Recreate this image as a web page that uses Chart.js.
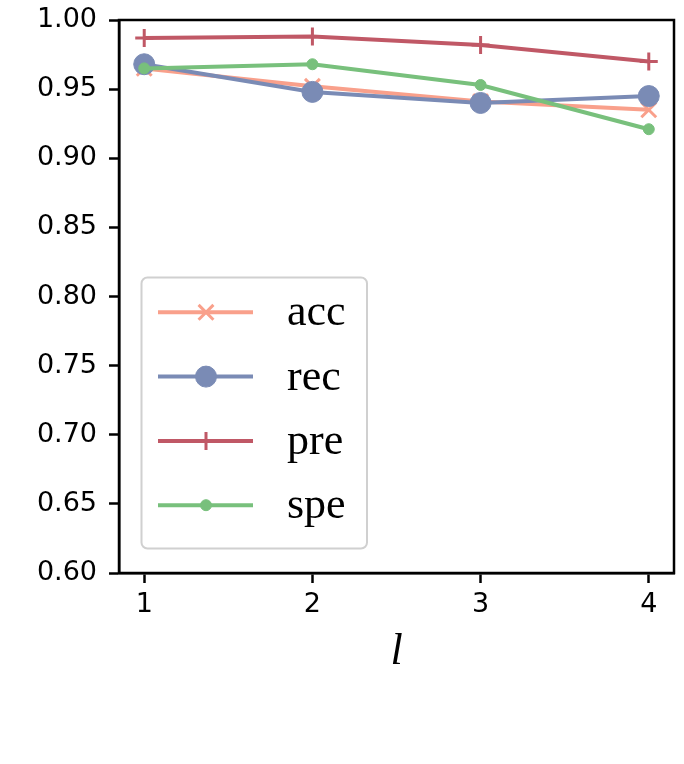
<!DOCTYPE html>
<html>
<head>
<meta charset="utf-8">
<script src="https://cdn.jsdelivr.net/npm/chart.js@4.4.1/dist/chart.umd.min.js"></script>
<style>
  html, body { margin: 0; padding: 0; background: #fff; overflow: hidden; }
  canvas { display: block; }
</style>
</head>
<body>
<canvas id="lineChart" width="684" height="764"></canvas>
<script>
const layers = [1, 2, 3, 4];
const accValues = [0.965, 0.952, 0.941, 0.935];
const recValues = [0.968, 0.948, 0.940, 0.945];
const preValues = [0.987, 0.988, 0.982, 0.970];
const speValues = [0.965, 0.968, 0.953, 0.921];
const xTicks = [1, 2, 3, 4];
const yTicks = [0.60, 0.65, 0.70, 0.75, 0.80, 0.85, 0.90, 0.95, 1.00];

const toPoints = vals => vals.map((v, i) => ({ x: layers[i], y: v }));

// frame around the plot + legend box in the lower-left
const framePlugin = {
    id: 'frame',
    afterDraw(chart) {
        const { ctx, chartArea: a } = chart;
        ctx.save();
        ctx.strokeStyle = '#000';
        ctx.lineWidth = 2.5;
        ctx.strokeRect(a.left, a.top, a.right - a.left, a.bottom - a.top);

        // legend
        const bx = 141.5, by = 277.5, bw = 225.5, bh = 271;
        ctx.beginPath();
        ctx.roundRect(bx, by, bw, bh, 6);
        ctx.fillStyle = 'rgba(255,255,255,0.8)';
        ctx.fill();
        ctx.strokeStyle = '#d0d0d0';
        ctx.lineWidth = 2;
        ctx.stroke();

        chart.data.datasets.forEach((ds, i) => {
            const y = 312.3 + i * 64.3;
            ctx.strokeStyle = ds.borderColor;
            ctx.lineWidth = ds.borderWidth;
            ctx.beginPath();
            ctx.moveTo(158, y);
            ctx.lineTo(253, y);
            ctx.stroke();
            ctx.fillStyle = ds.pointBackgroundColor;
            ctx.strokeStyle = ds.pointBorderColor;
            ctx.lineWidth = ds.pointBorderWidth;
            Chart.helpers.drawPoint(ctx, {
                pointStyle: ds.pointStyle,
                radius: ds.pointRadius,
                borderWidth: ds.pointBorderWidth,
                rotation: 0
            }, 206, y);
            ctx.fillStyle = '#000';
            ctx.font = '44px "Liberation Serif", "Times New Roman", serif';
            ctx.textBaseline = 'alphabetic';
            ctx.textAlign = 'left';
            ctx.fillText(ds.label, 287, y + 13);
        });
        ctx.restore();
    }
};

const ctx = document.getElementById('lineChart').getContext('2d');
new Chart(ctx, {
    type: 'line',
    data: {
        datasets: [
            {
                label: 'acc',
                data: toPoints(accValues),
                borderColor: 'rgb(249,160,139)',
                pointBackgroundColor: 'rgb(249,160,139)',
                pointBorderColor: 'rgb(249,160,139)',
                pointStyle: 'crossRot',
                pointRadius: 10.5,
                pointBorderWidth: 3,
                borderWidth: 4,
                order: 4
            },
            {
                label: 'rec',
                data: toPoints(recValues),
                borderColor: 'rgb(122,139,181)',
                pointBackgroundColor: 'rgb(122,139,181)',
                pointBorderColor: 'rgb(122,139,181)',
                pointStyle: 'circle',
                pointRadius: 10.5,
                pointBorderWidth: 1,
                borderWidth: 4,
                order: 3
            },
            {
                label: 'pre',
                data: toPoints(preValues),
                borderColor: 'rgb(192,88,102)',
                pointBackgroundColor: 'rgb(192,88,102)',
                pointBorderColor: 'rgb(192,88,102)',
                pointStyle: 'cross',
                pointRadius: 9,
                pointBorderWidth: 3,
                borderWidth: 4,
                order: 2
            },
            {
                label: 'spe',
                data: toPoints(speValues),
                borderColor: 'rgb(120,192,124)',
                pointBackgroundColor: 'rgb(120,192,124)',
                pointBorderColor: 'rgb(120,192,124)',
                pointStyle: 'circle',
                pointRadius: 5.5,
                pointBorderWidth: 1,
                borderWidth: 4,
                order: 1
            }
        ]
    },
    options: {
        responsive: false,
        animation: false,
        events: [],
        layout: { autoPadding: false, padding: { left: 0, top: 20, right: 10, bottom: 0 } },
        plugins: {
            legend: { display: false },
            tooltip: { enabled: false }
        },
        scales: {
            x: {
                type: 'linear',
                min: 0.85,
                max: 4.15,
                afterBuildTicks: scale => { scale.ticks = xTicks.map(v => ({ value: v })); },
                afterFit: scale => {
                    scale.height = 191;
                    scale.paddingLeft = 0;
                    scale.paddingRight = 0;
                },
                ticks: {
                    color: '#000',
                    font: { family: '"DejaVu Sans"', size: 27 },
                    padding: 6,
                    maxRotation: 0,
                    callback: v => String(v)
                },
                grid: { drawOnChartArea: false, tickLength: 10, tickWidth: 2.5, tickColor: '#000' },
                border: { display: true, color: '#000', width: 2.5 },
                title: {
                    display: true,
                    text: 'l',
                    color: '#000',
                    font: { family: '"Liberation Serif", serif', style: 'italic', size: 44, lineHeight: 1.2 },
                    padding: { top: 0, bottom: 85.6 }
                }
            },
            y: {
                min: 0.6,
                max: 1.0,
                afterBuildTicks: scale => { scale.ticks = yTicks.map(v => ({ value: v })); },
                afterFit: scale => {
                    scale.width = 119;
                    scale.paddingTop = 0;
                    scale.paddingBottom = 0;
                },
                ticks: {
                    color: '#000',
                    font: { family: '"DejaVu Sans"', size: 27 },
                    padding: 12,
                    callback: v => Number(v).toFixed(2)
                },
                grid: { drawOnChartArea: false, tickLength: 10, tickWidth: 2.5, tickColor: '#000' },
                border: { display: true, color: '#000', width: 2.5 }
            }
        }
    },
    plugins: [framePlugin]
});
</script>
</body>
</html>
